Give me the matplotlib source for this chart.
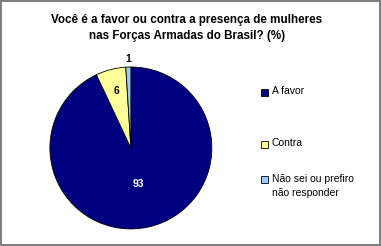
import matplotlib.pyplot as plt
from matplotlib.patches import Rectangle
import numpy as np

plt.rcParams['font.family'] = ['Liberation Sans', 'DejaVu Sans']

categories = ["A favor", "Contra", "Não sei ou prefiro\nnão responder"]
values = [93, 6, 1]
colors = ["#000080", "#FFFF99", "#99CCFF"]
label_colors = ["white", "black", "black"]
label_radius = [0.45, 0.73, 1.1]

title = "Você é a favor ou contra a presença de mulheres\nnas Forças Armadas do Brasil? (%)"

W, H = 381, 246
fig = plt.figure(figsize=(W / 100, H / 100), dpi=100)
fig.patch.set_facecolor("white")
fig.patch.set_edgecolor("#808080")
fig.patch.set_linewidth(1.5)

ax = fig.add_axes([0.131, 0.069, 0.425, 0.659])
wedges, _ = ax.pie(values, colors=colors, startangle=90, counterclock=False,
                   wedgeprops=dict(edgecolor="black", linewidth=0.6))
ax.set_xlim(-1, 1)
ax.set_ylim(-1, 1)
ax.set_aspect("equal")

# value labels at the middle angle of each wedge
for w, v, c, r in zip(wedges, values, label_colors, label_radius):
    ang = np.deg2rad((w.theta1 + w.theta2) / 2)
    ax.text(r * np.cos(ang), r * np.sin(ang), str(v), ha="center", va="center",
            color=c, fontsize=7.5, fontweight="bold", clip_on=False)

fig.text(0.49, 0.886, title, ha="center", va="center", fontsize=8.4,
         fontweight="bold", linespacing=1.4)

# legend drawn by hand so the square sits on the first line of each label
legend_y = [92, 144, 179]  # pixel rows from the top
for lab, col, yp in zip(categories, colors, legend_y):
    fig.add_artist(Rectangle(((261) / W, 1 - (yp + 3.5) / H), 7 / W, 7 / H,
                             transform=fig.transFigure, facecolor=col,
                             edgecolor="black", linewidth=0.6))
    fig.text(272 / W, 1 - (yp - 5.5) / H, lab, ha="left", va="top",
             fontsize=7.5, linespacing=1.55)

fig.savefig("out.png", dpi=100)
